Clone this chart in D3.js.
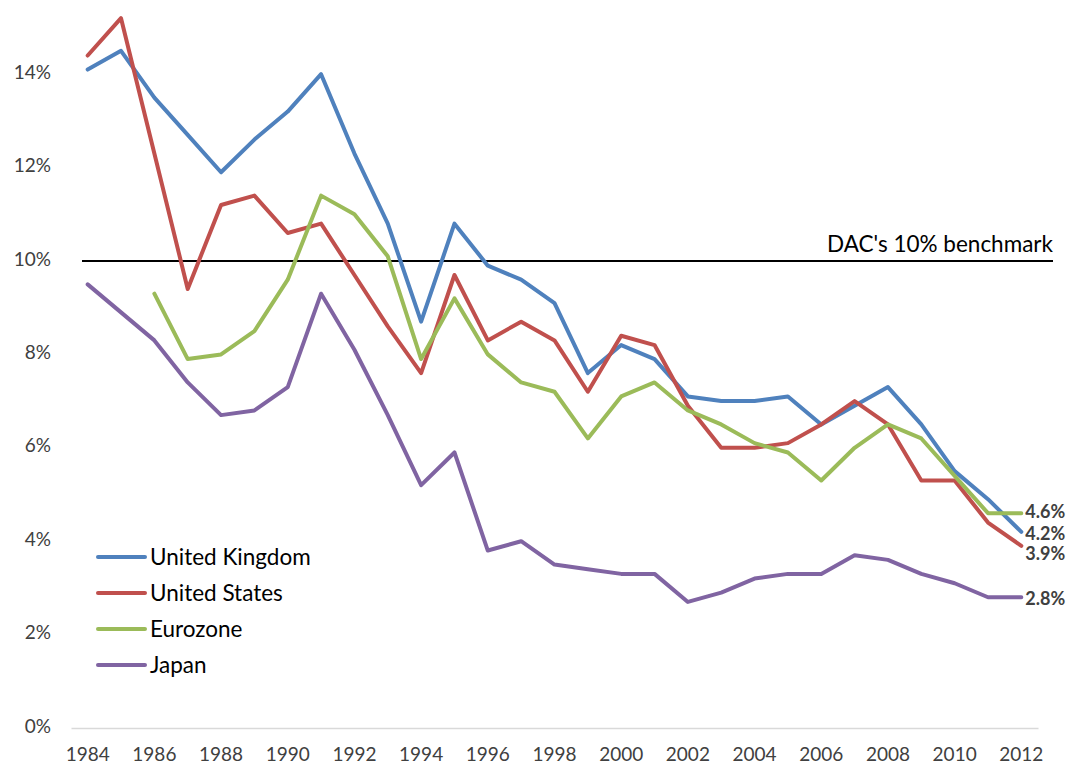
<!DOCTYPE html>
<html><head><meta charset="utf-8">
<script src="https://cdn.jsdelivr.net/npm/d3@7"></script>
<style>
html,body{margin:0;padding:0;background:#fff;}
svg{display:block;font-family:Lato,"Open Sans",sans-serif;}
</style></head>
<body>
<svg id="chart" width="1072" height="768"></svg>
<script>
const years = d3.range(1984, 2013);
const tickYears = [1984,1986,1988,1990,1992,1994,1996,1998,2000,2002,2004,2006,2008,2010,2012];
const yTicks = [0,2,4,6,8,10,12,14];
const seriesNames = ["United Kingdom","United States","Eurozone","Japan"];
const seriesColors = ["#4F81BD","#C0504D","#9BBB59","#8064A2"];
const ukValues = [14.1,14.5,13.5,12.7,11.9,12.6,13.2,14.0,12.3,10.8,8.7,10.8,9.9,9.6,9.1,7.6,8.2,7.9,7.1,7.0,7.0,7.1,6.5,6.9,7.3,6.5,5.5,4.9,4.2];
const usValues = [14.4,15.2,12.3,9.4,11.2,11.4,10.6,10.8,9.7,8.6,7.6,9.7,8.3,8.7,8.3,7.2,8.4,8.2,6.9,6.0,6.0,6.1,6.5,7.0,6.5,5.3,5.3,4.4,3.9];
const euroValues = [null,null,9.3,7.9,8.0,8.5,9.6,11.4,11.0,10.1,7.9,9.2,8.0,7.4,7.2,6.2,7.1,7.4,6.8,6.5,6.1,5.9,5.3,6.0,6.5,6.2,5.4,4.6,4.6];
const japanValues = [9.5,8.9,8.3,7.4,6.7,6.8,7.3,9.3,8.1,6.7,5.2,5.9,3.8,4.0,3.5,3.4,3.3,3.3,2.7,2.9,3.2,3.3,3.3,3.7,3.6,3.3,3.1,2.8,2.8];
const endLabels = ["4.2%","3.9%","4.6%","2.8%"];
const endLabelDy = [2,8,-1,1];
const benchmarkValue = 10;
const benchmarkLabel = "DAC's 10% benchmark";

const allValues = [ukValues, usValues, euroValues, japanValues];
const svg = d3.select("#chart");

const x = d3.scaleBand().domain(years).range([71, 1038]);
const xc = v => x(v) + x.bandwidth()/2;
const y = d3.scaleLinear().domain([0, 10]).range([728, 261]);

// y-axis labels
const yAxis = d3.axisLeft(y).tickValues(yTicks).tickFormat(d => d + "%").tickSize(0).tickPadding(0);
const gy = svg.append("g").attr("transform","translate(51,-2)").call(yAxis);
gy.select(".domain").remove();
gy.selectAll("text").attr("font-size", 19).attr("fill","#404040").attr("font-family","Lato,'Open Sans',sans-serif").attr("dy","0.32em");

// x-axis
const xAxis = d3.axisBottom(x).tickValues(tickYears).tickSize(0).tickPadding(20);
const gx = svg.append("g").attr("transform","translate(0,728)").call(xAxis);
gx.select(".domain").attr("stroke","#d9d9d9").attr("stroke-width",1.3);
gx.selectAll("text").attr("font-size", 19).attr("fill","#404040").attr("font-family","Lato,'Open Sans',sans-serif");

// benchmark line
svg.append("line")
  .attr("x1", 82).attr("x2", 1053)
  .attr("y1", y(benchmarkValue)).attr("y2", y(benchmarkValue))
  .attr("stroke","#000").attr("stroke-width",2);
svg.append("text")
  .attr("x", 1053).attr("y", y(benchmarkValue) - 9)
  .attr("text-anchor","end").attr("font-size",22.5).attr("fill","#000")
  .text(benchmarkLabel);

// series lines
const line = d3.line()
  .defined(d => d != null)
  .x((d,i) => xc(years[i]))
  .y(d => y(d));

allValues.forEach((vals, s) => {
  svg.append("path")
    .attr("d", line(vals))
    .attr("fill","none")
    .attr("stroke", seriesColors[s])
    .attr("stroke-width", 4)
    .attr("stroke-linejoin","round")
    .attr("stroke-linecap","round");
  const last = vals[vals.length-1];
  svg.append("text")
    .attr("x", xc(years[years.length-1]) + 4)
    .attr("y", y(last) + endLabelDy[s])
    .attr("dy","0.35em")
    .attr("font-size",18).attr("font-weight","bold").attr("fill","#404040")
    .text(endLabels[s]);
});

// legend
const lg = svg.append("g");
seriesNames.forEach((name, i) => {
  const ly = 557 + i*36;
  lg.append("line").attr("x1",98).attr("x2",145).attr("y1",ly).attr("y2",ly)
    .attr("stroke", seriesColors[i]).attr("stroke-width",4).attr("stroke-linecap","round");
  lg.append("text").attr("x",150).attr("y",ly).attr("dy","0.35em")
    .attr("font-size",22.5).attr("fill","#000").text(name);
});
</script>
</body></html>
